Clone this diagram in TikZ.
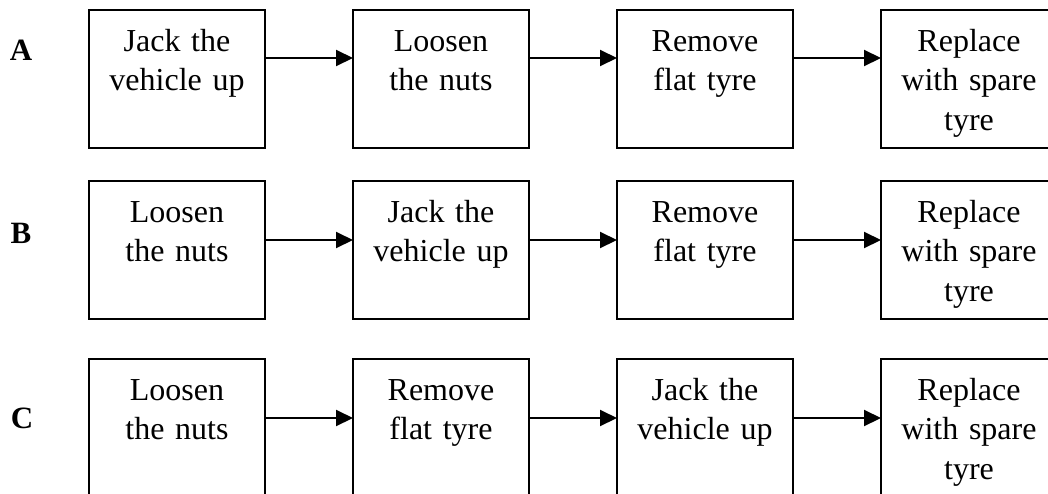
\documentclass[tikz,border=0pt]{standalone}
\usepackage{fontspec}
\setmainfont{Liberation Serif}
\usetikzlibrary{arrows.meta}

\begin{document}
\begin{tikzpicture}[
    x = 1pt, y = -1pt,
    line width = 2pt,
    stepbox/.style = {
      draw,
      rectangle,
      anchor = north,
      inner sep = 0,
      outer sep = 0,
      text width = 176pt,
      align = center,
      text height = 41pt,
      text depth = 97pt,
      font = \fontsize{32}{39.5}\selectfont,
    },
    rowlabel/.style = {
      anchor = base,
      font = \fontsize{31}{36}\selectfont\bfseries,
    },
    flow/.style = {
      -{Triangle[length = 17pt, width = 16pt]},
    },
  ]
  \clip (0,0) rectangle (1048,493);

  % row A
  \node[rowlabel] (labelA) at (21,60) {A};
  \foreach \n/\desc in {
    1/{Jack the\\vehicle up},
    2/{Loosen\\the nuts},
    3/{Remove\\flat tyre},
    4/{Replace\\with spare\\tyre}
  }{
    \node[stepbox] (A\n) at ({264*\n-87},10) {\desc};
  }
  \foreach \n/\m in {1/2, 2/3, 3/4}{
    \draw[flow] ([yshift = 21pt]A\n.east) -- ([yshift = 21pt]A\m.west);
  }

  % row B
  \node[rowlabel] (labelB) at (21,243) {B};
  \foreach \n/\desc in {
    1/{Loosen\\the nuts},
    2/{Jack the\\vehicle up},
    3/{Remove\\flat tyre},
    4/{Replace\\with spare\\tyre}
  }{
    \node[stepbox] (B\n) at ({264*\n-87},181) {\desc};
  }
  \foreach \n/\m in {1/2, 2/3, 3/4}{
    \draw[flow] ([yshift = 10pt]B\n.east) -- ([yshift = 10pt]B\m.west);
  }

  % row C
  \node[rowlabel] (labelC) at (22,428) {C};
  \foreach \n/\desc in {
    1/{Loosen\\the nuts},
    2/{Remove\\flat tyre},
    3/{Jack the\\vehicle up},
    4/{Replace\\with spare\\tyre}
  }{
    \node[stepbox] (C\n) at ({264*\n-87},359) {\desc};
  }
  \foreach \n/\m in {1/2, 2/3, 3/4}{
    \draw[flow] ([yshift = 10pt]C\n.east) -- ([yshift = 10pt]C\m.west);
  }

\end{tikzpicture}
\end{document}
